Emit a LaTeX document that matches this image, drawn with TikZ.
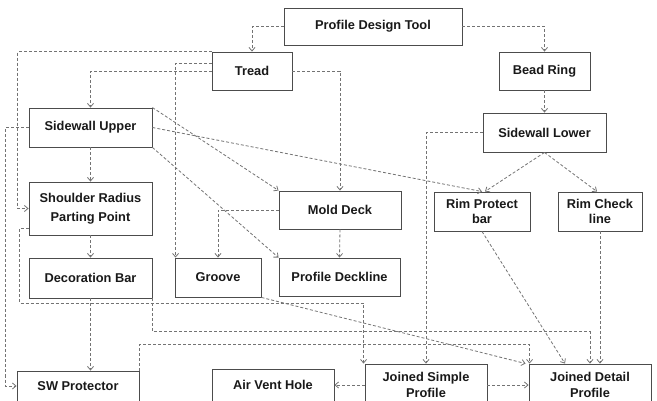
\documentclass[tikz,border=0pt]{standalone}
\usepackage{fontspec}
\setmainfont{Liberation Sans}
\usetikzlibrary{arrows.meta, positioning}

\begin{document}
\begin{tikzpicture}[x=1pt, y=-1pt,
    box/.style={rectangle, draw=black!70, line width=0.9pt, fill=white, minimum height=38pt, inner sep=2pt, font=\fontsize{12.8}{17}\selectfont\bfseries, text=black!90, align=center},
    link/.style={-{Straight Barb[length=3.5pt,width=6pt]}, line width=0.8pt, black!55, dash pattern=on 3pt off 2pt}
]
\useasboundingbox (0,0) rectangle (657,401);
\clip (0,0) rectangle (657,401);

\node[box, minimum width=178pt, minimum height=37pt] (PDT) at (373,26.5) {Profile Design Tool};
\node[box, minimum width=80pt] (Tread) at (252,71) {Tread};
\node[box, minimum width=91pt] (Bead) at (544.5,71) {Bead Ring};
\node[box, minimum width=123pt, minimum height=39pt] (SWU) at (90.5,127.5) {Sidewall Upper};
\node[box, minimum width=123pt, minimum height=39pt] (SWL) at (544.5,132.5) {Sidewall Lower};
\node[box, minimum width=123pt, minimum height=53pt, font=\fontsize{12.8}{18.5}\selectfont\bfseries] (SRPP) at (90.5,208.5) {Shoulder Radius\\Parting Point};
\node[box, minimum width=122pt] (Mold) at (340,210) {Mold Deck};
\node[box, minimum width=96pt, minimum height=39pt, font=\fontsize{12.8}{15}\selectfont\bfseries] (RimP) at (482,211.5) {Rim Protect\\bar};
\node[box, minimum width=84pt, minimum height=39pt, font=\fontsize{12.8}{15}\selectfont\bfseries] (RimC) at (600,211.5) {Rim Check\\line};
\node[box, minimum width=123pt, minimum height=40pt] (Deco) at (90.5,278) {Decoration Bar};
\node[box, minimum width=86pt, minimum height=39pt] (Groove) at (218,277.5) {Groove};
\node[box, minimum width=121pt] (PDeck) at (339.5,277) {Profile Deckline};
\node[box, minimum width=122pt, minimum height=30pt] (SWP) at (78,386) {SW Protector};
\node[box, minimum width=122pt, minimum height=32pt] (AirV) at (273,385) {Air Vent Hole};
\node[box, minimum width=122pt, minimum height=42pt, font=\fontsize{12.8}{16}\selectfont\bfseries] (JSP) at (426,385) {Joined Simple\\Profile};
\node[box, minimum width=122pt, minimum height=42pt, font=\fontsize{12.8}{16}\selectfont\bfseries] (JDP) at (590,385) {Joined Detail\\Profile};

% top level
\draw[link] (PDT.west) -| (Tread.north);
\draw[link] (PDT.east) -| (Bead.north);

% from Tread
\draw[link] (Tread.west) -| (SWU.north);
\draw[link] (Tread.east) -| (Mold.north);
\draw[link] (Tread.north west) -| ([xshift=-11pt]SRPP.west) -- (SRPP.west);
\draw[link] ([yshift=8pt]Tread.west) -| ([xshift=1pt]Groove.north west);

% from Sidewall Upper
\draw[link] (SWU.west) -| ([xshift=-11pt]SWP.west) -- (SWP.west);
\draw[link] (SWU.south) -- (SRPP.north);
\draw[link] (SWU.north east) -- (Mold.north west);
\draw[link] (SWU.east) -- (RimP.north);
\draw[link] (SWU.south east) -- (PDeck.north west);

% bead side
\draw[link] (Bead.south) -- (SWL.north);
\draw[link] (SWL.west) -| (JSP.north);
\draw[link] (SWL.south) -- ([xshift=3pt]RimP.north);
\draw[link] (SWL.south) -- ([xshift=-3pt]RimC.north);

% middle
\draw[link] (Mold.west) -| (Groove.north);
\draw[link] (Mold.south) -- (PDeck.north);
\draw[link] (SRPP.south) -- (Deco.north);
\draw[link] ([yshift=7pt]SRPP.south west) -- ++(-9,0) -- ++(0,75) -| ([xshift=-1pt]JSP.north west);
\draw[link] (Deco.south) -- (Deco.south |- SWP.north);
\draw[link] (Deco.south east) -- ++(0,33) -| (JDP.north);
\draw[link] (Groove.south east) -- ([xshift=-3pt]JDP.north west);
\draw[link] (SWP.north east) -- ++(0,-26) -| ([xshift=1pt]JDP.north west);
\draw[link] (RimP.south) -- ([xshift=-25pt]JDP.north);
\draw[link] (RimC.south) -- (RimC.south |- JDP.north);

% bottom row
\draw[link] (JSP.west) -- (AirV.east);
\draw[link] (JSP.east) -- (JDP.west);
\end{tikzpicture}
\end{document}
